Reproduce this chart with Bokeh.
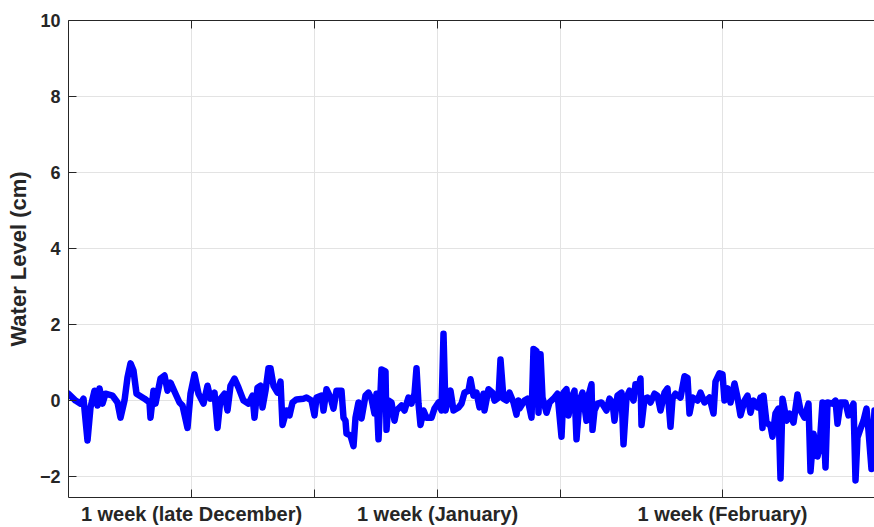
from bokeh.plotting import figure
from bokeh.models import FixedTicker, LinearAxis, Range1d
from bokeh.embed import file_html
from bokeh.resources import INLINE

# time index (samples) and water level (cm)
t = [0, 7, 12, 15, 19, 22, 26, 29, 31, 34, 37, 44, 49, 52, 56, 59, 62, 65, 68, 76,
     81, 82, 85, 87, 92, 96, 99, 102, 107, 111,
     114, 119, 122, 126, 130, 135, 139, 142, 146, 149, 152, 156, 159, 162, 166, 170,
     175, 180, 184, 186, 189, 192, 194, 197, 200, 202, 205, 209, 212, 214, 218, 221,
     224, 228, 235, 238, 243, 246, 248, 253, 255, 258, 262, 265, 268, 273, 275, 277,
     278, 282, 285, 287, 290, 293, 297, 300, 303, 306, 308, 310, 313, 317, 318, 320,
     323, 326, 328, 333,
     336, 340, 343, 346, 348, 350, 352, 355, 358, 363, 366, 370, 373, 375, 377, 380,
     382, 385, 390, 393, 396, 400, 402, 405, 408, 411, 415, 416, 420, 424, 426, 430,
     432, 435, 438, 441, 445, 448, 450,
     451, 456, 459, 463, 465, 468, 470, 472, 474, 478, 481, 485, 489, 493, 495, 498,
     500, 503, 506, 508, 511, 514, 518, 520, 523, 524, 526, 529, 533, 538, 541, 544,
     546, 549, 553, 555, 558, 561,
     565, 567, 570, 572, 573, 576, 579, 582, 586, 589, 592, 596, 599, 602, 604, 607,
     612, 616, 619, 621, 624, 629, 632, 636, 641, 645, 647, 651, 654, 656, 659, 662,
     666, 669, 672, 676,
     679, 682, 685, 689, 692, 694, 695, 698, 702, 704, 707, 710, 712, 714, 715, 718,
     721, 725, 729, 732, 736, 740, 742, 745, 749, 751, 754, 757, 759, 764, 767, 769,
     772, 777, 780, 785, 787, 789, 792, 795, 798, 800, 803, 806]

level = [0.18, 0.0, -0.08, 0.05, -1.05, -0.18, 0.26, -0.13, 0.32, -0.08, 0.18, 0.13, -0.05, -0.45, 0.0, 0.61, 0.98, 0.79, 0.18, 0.05,
         -0.05, -0.45, 0.26, -0.08, 0.58, 0.66, 0.26, 0.47, 0.18, -0.05,
         -0.13, -0.72, 0.18, 0.69, 0.18, -0.08, 0.39, 0.05, 0.21, -0.72, 0.05, 0.18, -0.26, 0.39, 0.58, 0.34,
         0.0, -0.08, 0.13, -0.45, 0.34, 0.39, -0.18, 0.26, 0.85, 0.85, 0.39, 0.21, 0.5, -0.64, -0.26, -0.39,
         -0.05, 0.03, 0.05, 0.08, 0.0, -0.39, 0.08, 0.13, -0.26, 0.3, 0.08, -0.21, 0.26, 0.26, -0.45, -0.53,
         -0.87, -0.92, -1.2, -0.45, -0.05, -0.47, 0.13, 0.21, 0.05, -0.34, 0.18, -1.02, 0.82, 0.77, -0.77, 0.0,
         -0.05, -0.53, -0.26, -0.13,
         -0.26, 0.08, -0.08, 0.18, 0.85, -0.08, -0.64, -0.26, -0.45, -0.45, -0.21, -0.05, -0.26, 1.76, -0.26, 0.08,
         0.26, -0.26, -0.18, -0.08, 0.21, 0.26, 0.56, 0.13, 0.21, -0.18, 0.18, -0.26, 0.3, 0.21, 0.0, 0.08,
         1.08, 0.05, 0.0, 0.21, -0.05, -0.37, 0.0,
         -0.21, 0.0, 0.05, -0.45, 1.36, 1.3, -0.32, 1.22, 0.08, -0.32, -0.05, 0.05, 0.18, -0.95, 0.21, 0.3,
         -0.39, 0.08, 0.26, -1.02, 0.0, 0.21, -0.53, 0.13, 0.43, -0.77, -0.26, -0.08, -0.05, -0.26, 0.05, -0.05,
         -0.53, 0.13, 0.21, -1.15, 0.08, 0.26,
         0.0, 0.43, 0.34, 0.58, -0.64, 0.05, 0.08, -0.05, 0.18, 0.13, -0.26, 0.21, 0.32, -0.69, 0.05, 0.18,
         0.08, 0.64, 0.6, -0.34, 0.08, 0.0, 0.21, -0.05, 0.08, -0.34, 0.5, 0.72, 0.69, 0.0, 0.32, -0.05,
         0.45, 0.08, -0.39, 0.0,
         0.13, -0.32, 0.0, -0.18, 0.08, -0.72, 0.13, -0.58, -0.66, -0.95, -0.34, -0.21, -2.05, 0.05, -0.08, -0.53,
         -0.34, -0.58, 0.16, -0.26, -0.45, -0.08, -1.86, -0.87, -1.47, -1.24, -0.05, -1.76, -0.05, -0.08, 0.0, -0.61,
         -0.05, -0.05, -0.39, -0.08, -2.1, -0.97, -0.74, -0.53, -0.21, -0.79, -1.8, -0.26]

x_ticks = [123, 246, 369, 492, 654]
x_label_ticks = [123, 369, 654]
x_tick_labels = ["1 week (late December)", "1 week (January)", "1 week (February)"]
x_unlabeled_ticks = [246, 492]
y_ticks = [-2, 0, 2, 4, 6, 8, 10]

FONT = "Liberation Sans"
DARK = "#262626"
GRID = "#e3e3e3"

p = figure(width=874, height=527, output_backend="svg", toolbar_location=None,
           x_range=Range1d(0, 806), y_range=Range1d(-2.55, 10),
           min_border_left=68, min_border_right=0, min_border_top=20, min_border_bottom=30)
p.outline_line_color = None
p.background_fill_color = "white"
p.border_fill_color = "white"

p.line(t, level, line_color="#0000ff", line_width=6.5, line_join="round", line_cap="round")

# bottom axis: labelled ticks as major, unlabelled ones as minor ticks
xa = p.xaxis[0]
xa.ticker = FixedTicker(ticks=x_label_ticks, minor_ticks=x_unlabeled_ticks)
xa.major_label_overrides = {tk: lb for tk, lb in zip(x_label_ticks, x_tick_labels)}
xa.major_tick_in = 8
xa.major_tick_out = 0
xa.minor_tick_in = 8
xa.minor_tick_out = 0
xa.minor_tick_line_color = DARK
xa.axis_line_color = DARK
xa.major_tick_line_color = DARK
xa.major_label_text_font = FONT
xa.major_label_text_font_style = "bold"
xa.major_label_text_font_size = "20px"
xa.major_label_text_color = DARK
xa.major_label_standoff = 5

# left axis
ya = p.yaxis[0]
ya.ticker = FixedTicker(ticks=y_ticks)
ya.major_tick_in = 8
ya.major_tick_out = 0
ya.minor_tick_line_color = None
ya.axis_line_color = DARK
ya.major_tick_line_color = DARK
ya.major_label_text_font = FONT
ya.major_label_text_font_style = "bold"
ya.major_label_text_font_size = "18px"
ya.major_label_text_color = DARK
ya.major_label_standoff = 8
ya.axis_label = "Water Level (cm)"
ya.axis_label_text_font = FONT
ya.axis_label_text_font_style = "bold"
ya.axis_label_text_font_size = "22px"
ya.axis_label_text_color = DARK
ya.axis_label_standoff = 6

# top axis (box line with inward ticks, no labels)
top = LinearAxis(ticker=FixedTicker(ticks=[], minor_ticks=x_ticks),
                 major_tick_in=8, major_tick_out=0,
                 minor_tick_in=8, minor_tick_out=0,
                 minor_tick_line_color=DARK, axis_line_color=DARK, major_tick_line_color=DARK,
                 major_label_standoff=0)
p.add_layout(top, "above")

p.xgrid.grid_line_color = GRID
p.ygrid.grid_line_color = GRID
p.xgrid.ticker = FixedTicker(ticks=x_ticks)
p.ygrid.ticker = FixedTicker(ticks=y_ticks)

open("out.html", "w").write(file_html(p, INLINE))
